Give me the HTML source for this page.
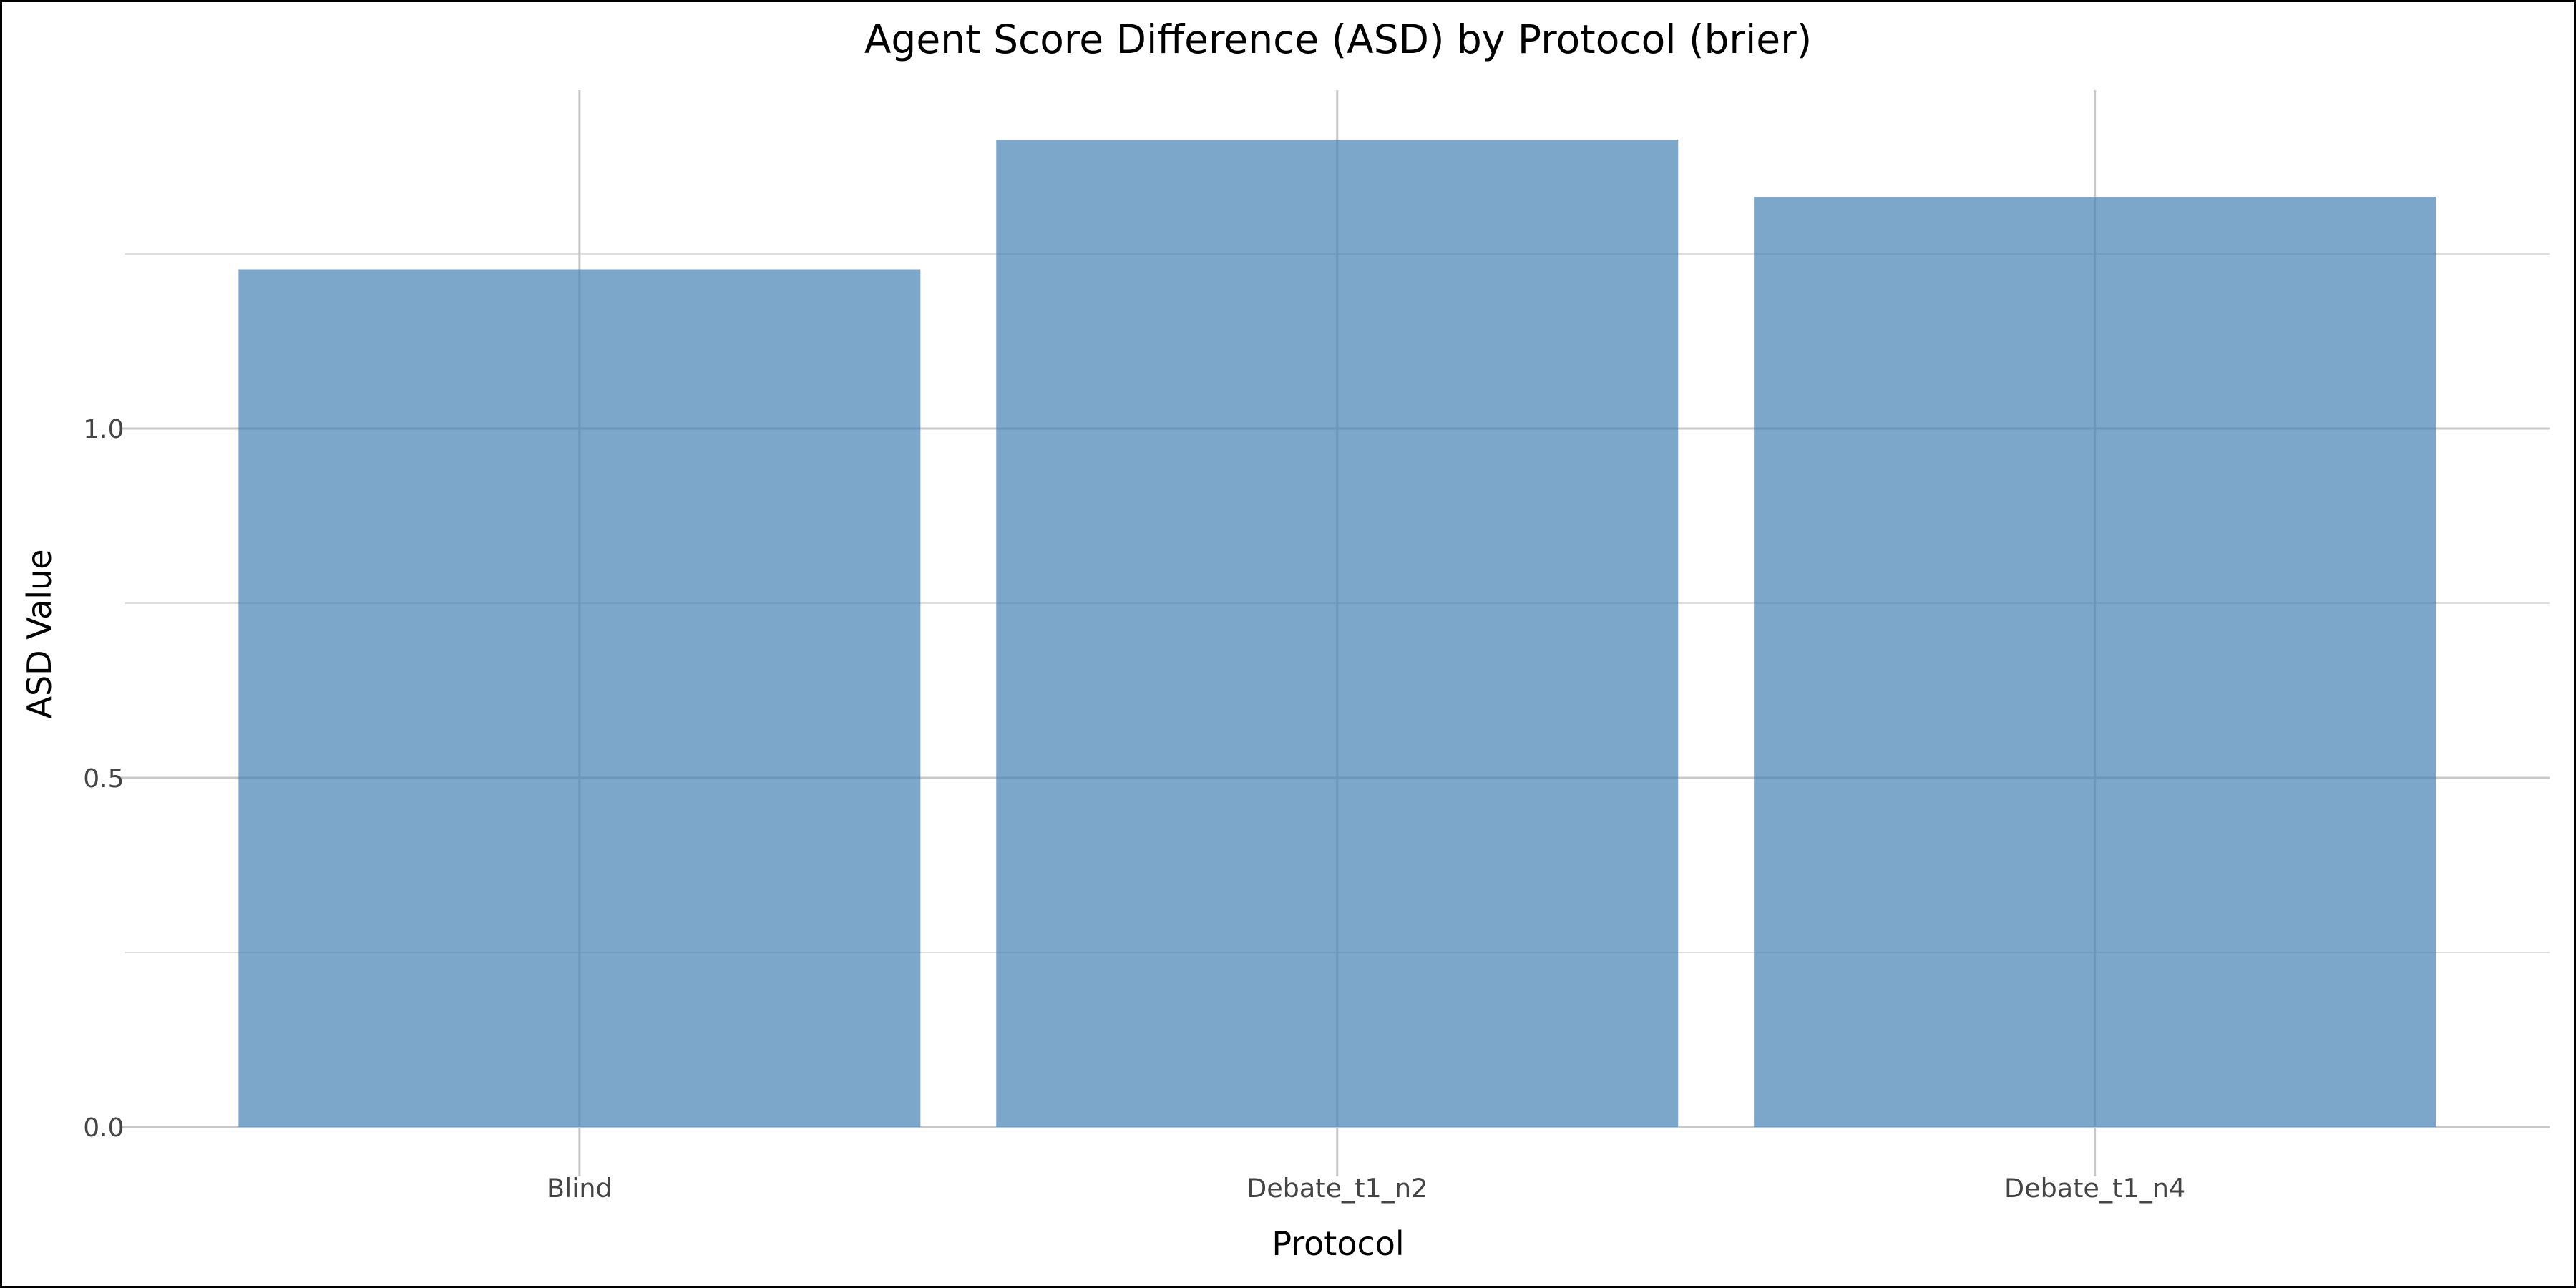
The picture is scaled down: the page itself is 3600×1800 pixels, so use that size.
<!DOCTYPE html>
<html><head><meta charset="utf-8"><style>
html,body{margin:0;padding:0;background:#fff}
svg{display:block}
text{font-family:"DejaVu Sans","Liberation Sans",sans-serif}
</style></head><body>
<svg id="chart" width="3600" height="1800" viewBox="0 0 3600 1800">
<rect x="1.5" y="1.5" width="3597" height="1797" fill="#fff" stroke="#000" stroke-width="3"/>
<text x="1870" y="74" font-size="55" text-anchor="middle" fill="#000">Agent Score Difference (ASD) by Protocol (brier)</text>
<g id="grid"></g>
<g id="bars"></g>
<g id="axes"></g>
<text x="1870" y="1754" font-size="46" text-anchor="middle" fill="#000">Protocol</text>
<text transform="translate(71,886) rotate(-90)" font-size="46" text-anchor="middle" fill="#000">ASD Value</text>
</svg>
<script>
const categories = ["Blind", "Debate_t1_n2", "Debate_t1_n4"];
const values = [1.228, 1.414, 1.332];
const yTicks = [0, 0.5, 1.0];
const yTickLabels = ["0.0", "0.5", "1.0"];
const yMinor = [0.25, 0.75, 1.25];

const NS = "http://www.w3.org/2000/svg";
const L = 174.5, R = 3563, Y0 = 1575, Y1 = 599, TOP = 126, BOT = 1644;
const xs = i => L + (i + 1 - 0.4) / 3.2 * (R - L);
const bandW = (R - L) / 3.2;
const ys = v => Y0 - v * (Y0 - Y1);
function mk(tag, attrs, parent) {
  const e = document.createElementNS(NS, tag);
  for (const k in attrs) e.setAttribute(k, attrs[k]);
  parent.appendChild(e);
  return e;
}
const grid = document.getElementById('grid');
const bars = document.getElementById('bars');
const axes = document.getElementById('axes');
yMinor.forEach(v => {
  const l = mk('line', {x1: L, x2: R, y1: ys(v), y2: ys(v), stroke: '#dedede', 'stroke-width': 2}, grid);
  
  
});
yTicks.forEach((v, i) => {
  const l = mk('line', {x1: L - 8, x2: R, y1: ys(v), y2: ys(v), stroke: '#c8c8c8', 'stroke-width': 3}, grid);
  
  
  const t = mk('text', {x: L - 1, y: ys(v) + 13, 'font-size': 36, 'text-anchor': 'end', fill: '#444'}, axes);
  t.textContent = yTickLabels[i];
  
  
});
categories.forEach((c, i) => {
  const l = mk('line', {x1: xs(i), x2: xs(i), y1: TOP, y2: BOT, stroke: '#c8c8c8', 'stroke-width': 3}, grid);
  
  
  const w = bandW * 0.9;
  const r = mk('rect', {x: xs(i) - w / 2, y: ys(values[i]), width: w, height: ys(0) - ys(values[i]), fill: 'steelblue', 'fill-opacity': 0.7}, bars);
  
  
  const t = mk('text', {x: xs(i), y: 1673, 'font-size': 36.5, 'text-anchor': 'middle', fill: '#444'}, axes);
  t.textContent = c;
  
  
});
</script>
</body></html>
